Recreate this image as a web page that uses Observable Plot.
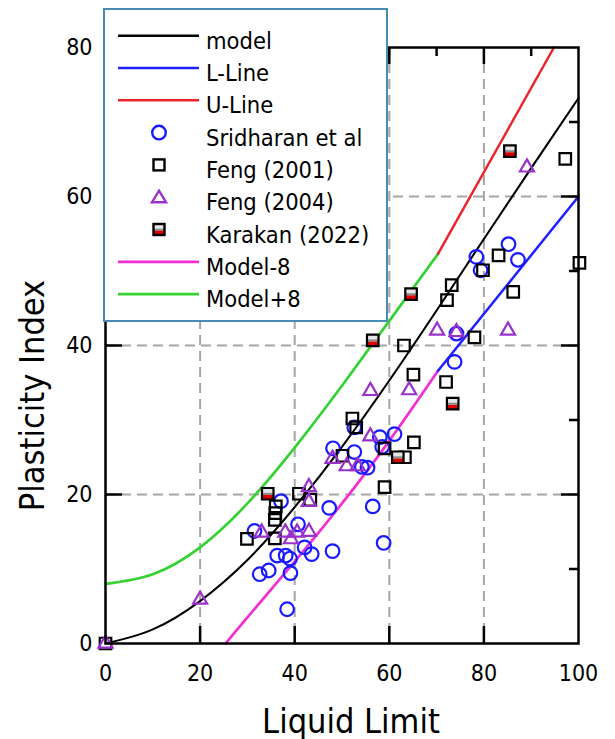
<!DOCTYPE html>
<html><head><meta charset="utf-8">
<script src="https://cdn.jsdelivr.net/npm/d3@7"></script>
<script src="https://cdn.jsdelivr.net/npm/@observablehq/plot@0.6"></script>
<style>
body{margin:0;background:#fff;}
#wrap{position:relative;width:615px;height:739px;font-family:'DejaVu Sans Condensed','DejaVu Sans',sans-serif;}
#legend{position:absolute;left:103px;top:8px;width:281px;height:310px;border:2px solid #4a8bb5;background:#fff;}
#legend svg{display:block;}
</style></head><body><div id="wrap"></div>
<script>
// ---- curves ----
const modelLL = [0,10,20,30,40,50,60,70,80,90,100];
const modelPI = [0,1.9,5.7,11.2,18.3,26.4,35.3,44.7,54.3,63.8,73.2];
const lowerLL = [25.4,30,40,50,60,70.3];
const lowerPI = [0,3.5,11,18.8,27.2,36.6];
const lLineLL = [70.3,100];
const lLinePI = [36.6,60];
const upperLL = [0,10,20,30,40,50,60,70.3];
const upperPI = [8,9.3,12.9,18.8,26.3,34.6,43.3,52.3];
const uLineLL = [70.3,94.8];
const uLinePI = [52.3,80];

// ---- data points ----
const sridharanLL = [31.5,32.6,34.5,36.3,37.1,38.1,38.4,39.0,39.1,40.7,42.1,43.6,47.3,48.0,48.1,52.6,52.6,54.2,55.4,56.5,58.0,58.5,58.8,61.1,73.8,74.2,78.4,79.3,85.2,87.2];
const sridharanPI = [15.1,9.3,9.8,11.8,19.1,11.8,4.6,11.4,9.45,16.0,12.9,12.0,18.2,12.4,26.2,25.7,29.0,23.7,23.6,18.4,27.7,26.4,13.5,28.1,37.8,41.6,51.9,50.1,53.6,51.5];
const feng2001LL = [0,29.9,35.8,35.8,35.9,36,40.9,43.3,50.1,52.2,53,59,59,63.3,65.2,63.1,65.1,72,78,72.2,73.2,79.8,83.1,86.2,97.2,100.2];
const feng2001PI = [0,14.05,14.1,16.6,17.5,18.4,20.1,19.3,25.2,30.2,29,26.2,21,25,27,40,36.1,35.1,41.1,46.1,48.1,50.1,52.1,47.2,65.05,51.1];
const feng2004LL = [0,20,33,38,39.2,40.5,43,43,43,48,51,53.3,56,56,64.2,70.1,74.2,85.1,89.1];
const feng2004PI = [0,5.9,14.9,14.9,14,14.9,15,19,21,24.8,23.8,23.8,27.8,33.9,34,42,41.8,42,63.9];
const karakanLL = [34.3,56.5,61.8,64.6,73.4,85.5];
const karakanPI = [20.1,40.7,25,46.9,32.2,66.1];

// ---- ticks ----
const xTickLabels = [0,20,40,60,80,100];
const yTickLabels = [0,20,40,60,80];
const xMajor = [20,40,60,80];
const xMinor = [10,30,50,70,90];
const yMajor = [20,40,60];
const yMinor = [10,30,50,70];

const pts = (a,b) => a.map((v,i)=>({LL:v, PI:b[i]}));
const model = pts(modelLL, modelPI), lower = pts(lowerLL, lowerPI), lLine = pts(lLineLL, lLinePI);
const upper = pts(upperLL, upperPI), uLine = pts(uLineLL, uLinePI);
const sri = pts(sridharanLL, sridharanPI), f01 = pts(feng2001LL, feng2001PI), f04 = pts(feng2004LL, feng2004PI), kar = pts(karakanLL, karakanPI);

const C = {model:"#000", lline:"#1f1fff", uline:"#e8262c", sri:"#1a1aff", f01:"#000", f04:"#9932cc", minus:"#f22fd2", plus:"#36d132", grid:"#a6a6a6"};

const ML=105, MR=37, MT=47, MB=96, W=615, H=739;
const FW = W-ML-MR, FH = H-MT-MB;
const RS = 6.5; // square marker radius

const redLower = {draw(ctx,size){const s=Math.sqrt(size)/2; ctx.rect(-s, s*0.2, 2*s, s*0.8);}};
const grayBand = {draw(ctx,size){const s=Math.sqrt(size)/2; ctx.rect(-s, -s*0.15, 2*s, s*0.35);}};

const font = "'DejaVu Sans Condensed','DejaVu Sans',sans-serif";
const chart = Plot.plot({
  width: W, height: H, marginLeft: ML, marginRight: MR, marginTop: MT, marginBottom: MB,
  style: {fontFamily: font, fontSize: "23px", background: "#fff", color: "#000"},
  x: {domain:[0,100], ticks: xTickLabels, tickSize: 0, tickPadding: 21, label: null},
  y: {domain:[0,80], ticks: yTickLabels, tickSize: 0, tickPadding: 13, label: null},
  marks: [
    Plot.ruleX(xMajor, {stroke: C.grid, strokeWidth: 2, strokeDasharray: "10,6"}),
    Plot.ruleY(yMajor, {stroke: C.grid, strokeWidth: 2, strokeDasharray: "10,6"}),
    Plot.line(upper, {x:"LL", y:"PI", stroke: C.plus, strokeWidth: 2.7, curve: "natural"}),
    Plot.line(lower, {x:"LL", y:"PI", stroke: C.minus, strokeWidth: 2.7, curve: "natural"}),
    Plot.line(uLine, {x:"LL", y:"PI", stroke: C.uline, strokeWidth: 2.5}),
    Plot.line(lLine, {x:"LL", y:"PI", stroke: C.lline, strokeWidth: 2.5}),
    Plot.line(model, {x:"LL", y:"PI", stroke: C.model, strokeWidth: 2.1, curve: "natural"}),
    Plot.dot(sri, {x:"LL", y:"PI", r: 6.8, stroke: C.sri, strokeWidth: 2.2, fill: "none"}),
    Plot.dot(f01, {x:"LL", y:"PI", symbol: "square", r: RS, stroke: C.f01, strokeWidth: 2.2, fill: "none"}),
    Plot.dot(f04, {x:"LL", y:"PI", symbol: "triangle", r: 5.2, stroke: C.f04, strokeWidth: 2.2, fill: "none"}),
    Plot.dot(kar, {x:"LL", y:"PI", symbol: "square", r: RS, stroke: "none", fill: "#e6e6e6"}),
    Plot.dot(kar, {x:"LL", y:"PI", symbol: redLower, r: RS, fill: "#e00000", stroke: "none"}),
    Plot.dot(kar, {x:"LL", y:"PI", symbol: grayBand, r: RS, fill: "#8a8a8a", stroke: "none"}),
    Plot.dot(kar, {x:"LL", y:"PI", symbol: "square", r: RS, stroke: "#000", strokeWidth: 2.2, fill: "none"}),
    Plot.frame({stroke: "#000", strokeWidth: 2.5}),
    Plot.ruleX(xMajor, {insetTop: FH-17, stroke:"#000", strokeWidth: 2.5}),
    Plot.ruleX(xMajor, {insetBottom: FH-17, stroke:"#000", strokeWidth: 2.5}),
    Plot.ruleX(xMinor, {insetBottom: FH-9, stroke:"#000", strokeWidth: 2.5}),
    Plot.ruleY(yMajor, {insetRight: FW-17, stroke:"#000", strokeWidth: 2.5}),
    Plot.ruleY(yMajor, {insetLeft: FW-17, stroke:"#000", strokeWidth: 2.5}),
    Plot.ruleY(yMinor, {insetLeft: FW-9, stroke:"#000", strokeWidth: 2.5}),
    Plot.text(["Liquid Limit"], {text: d=>d, frameAnchor: "bottom", textAnchor: "middle", dx: 9, dy: 89, fontSize: 34, fill: "#000"}),
    Plot.text(["Plasticity Index"], {text: d=>d, frameAnchor: "left", textAnchor: "middle", lineAnchor: "middle", rotate: -90, dx: -72, dy: 50, fontSize: 34, fill: "#000"})
  ]
});
const wrap = document.getElementById("wrap");
wrap.appendChild(chart);

// ---- legend ----
const legendItems = [
  {label:"model", kind:"line", color:C.model, w:2.6},
  {label:"L-Line", kind:"line", color:C.lline, w:2.6},
  {label:"U-Line", kind:"line", color:C.uline, w:2.6},
  {label:"Sridharan et al", kind:"circle", color:C.sri},
  {label:"Feng (2001)", kind:"square", color:C.f01},
  {label:"Feng (2004)", kind:"triangle", color:C.f04},
  {label:"Karakan (2022)", kind:"karakan", color:"#000"},
  {label:"Model-8", kind:"line", color:C.minus, w:2.8},
  {label:"Model+8", kind:"line", color:C.plus, w:2.8}
];
const lg = document.createElement("div");
lg.id = "legend";
const ns = "http://www.w3.org/2000/svg";
const svg = document.createElementNS(ns, "svg");
svg.setAttribute("width", 281); svg.setAttribute("height", 310);
const el = (tag, attrs) => { const e = document.createElementNS(ns, tag); for (const k in attrs) e.setAttribute(k, attrs[k]); svg.appendChild(e); return e; };
legendItems.forEach((it, i) => {
  const y = 25.7 + 32.3*i, cx = 54;
  if (it.kind === "line") el("line", {x1:13, x2:94, y1:y, y2:y, stroke:it.color, "stroke-width":it.w});
  else if (it.kind === "circle") el("circle", {cx, cy:y, r:6.8, fill:"none", stroke:it.color, "stroke-width":2.4});
  else if (it.kind === "square") el("rect", {x:cx-5.5, y:y-5.5, width:11, height:11, fill:"none", stroke:it.color, "stroke-width":2.4});
  else if (it.kind === "triangle") el("path", {d:`M${cx},${y-6.5}L${cx+7},${y+5}L${cx-7},${y+5}Z`, fill:"none", stroke:it.color, "stroke-width":2.4});
  else if (it.kind === "karakan") {
    el("rect", {x:cx-5.5, y:y-5.5, width:11, height:11, fill:"#e6e6e6", stroke:"none"});
    el("rect", {x:cx-5.5, y:y-0.8, width:11, height:2, fill:"#8a8a8a"});
    el("rect", {x:cx-5.5, y:y+1.2, width:11, height:4.3, fill:"#e00000"});
    el("rect", {x:cx-5.5, y:y-5.5, width:11, height:11, fill:"none", stroke:"#000", "stroke-width":2.4});
  }
  const t = el("text", {x:101, y:y+13, "font-size":"23.5px", "font-family":font, fill:"#000"});
  t.textContent = it.label;
});
lg.appendChild(svg);
wrap.appendChild(lg);
</script>
</body></html>
